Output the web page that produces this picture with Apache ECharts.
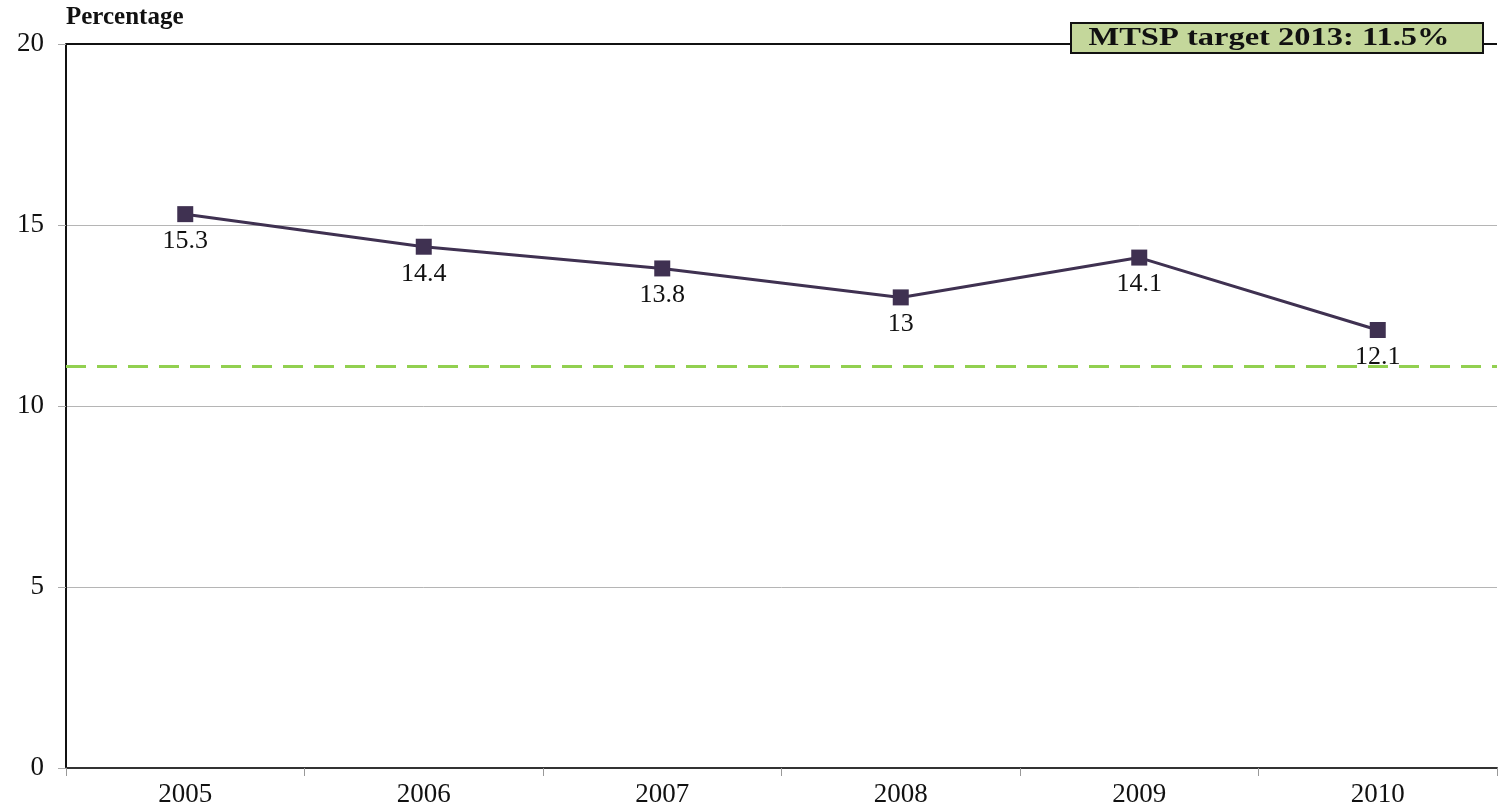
<!DOCTYPE html>
<html>
<head>
<meta charset="utf-8">
<script src="https://cdn.jsdelivr.net/npm/echarts@6/dist/echarts.min.js"></script>
<style>
  html, body { margin: 0; padding: 0; background: #fff; }
  #chart { width: 1499px; height: 808px; }
</style>
</head>
<body>
<div id="chart"></div>
<script>
// data
const years = ['2005', '2006', '2007', '2008', '2009', '2010'];
const shareValues = [15.3, 14.4, 13.8, 13, 14.1, 12.1];
const targetLevel = [11.1];
const yTicks = [0, 5, 10, 15, 20];
const noteText = 'MTSP target 2013: 11.5%';

const serif = '"Liberation Serif", "DejaVu Serif", serif';
const chart = echarts.init(document.getElementById('chart'));

chart.setOption({
  animation: false,
  grid: { left: 66, right: 2, top: 44, bottom: 37 },
  xAxis: {
    type: 'category',
    data: years,
    boundaryGap: true,
    axisLine: { lineStyle: { color: '#333', width: 2 } },
    axisTick: { show: true, length: 8, lineStyle: { color: '#999', width: 1 } },
    axisLabel: { color: '#111', fontFamily: serif, fontSize: 27, margin: 13 }
  },
  yAxis: {
    type: 'value',
    min: yTicks[0],
    max: yTicks[yTicks.length - 1],
    interval: 5,
    name: 'Percentage',
    nameLocation: 'end',
    nameGap: 14,
    nameTextStyle: { color: '#111', fontFamily: serif, fontSize: 25, fontWeight: 'bold', align: 'left' },
    axisLine: { show: true, lineStyle: { color: '#111', width: 2 } },
    axisTick: { show: true, length: 8, lineStyle: { color: '#aaa', width: 1 } },
    axisLabel: { color: '#111', fontFamily: serif, fontSize: 27, margin: 22 },
    splitLine: { show: true, lineStyle: { color: '#b5b5b5', width: 1 } }
  },
  graphic: [{
    type: 'group',
    left: 1070,
    top: 22,
    z: 100,
    children: [{
      type: 'rect',
      z: 100,
      shape: { x: 0, y: 0, width: 412, height: 30 },
      style: { fill: '#c4d79b', stroke: '#111', lineWidth: 2 }
    }, {
      type: 'text',
      z: 101,
      x: 198,
      y: 16,
      scaleX: 1.3,
      style: {
        text: noteText,
        font: 'bold 25px ' + serif,
        fill: '#111',
        align: 'center',
        verticalAlign: 'middle'
      }
    }]
  }],
  series: [{
    type: 'line',
    data: shareValues,
    symbol: 'rect',
    symbolSize: 16,
    itemStyle: { color: '#3f3151' },
    lineStyle: { color: '#3f3151', width: 3 },
    label: {
      show: true,
      position: 'bottom',
      distance: 6,
      color: '#111',
      fontFamily: serif,
      fontSize: 26
    },
    markLine: {
      silent: true,
      symbol: 'none',
      label: { show: false },
      data: [
        { yAxis: targetLevel[0], lineStyle: { color: '#92d050', type: [20, 11], width: 3 } },
        { yAxis: yTicks[yTicks.length - 1], lineStyle: { color: '#111', type: 'solid', width: 2 } }
      ]
    },
    z: 3
  }]
});
</script>
</body>
</html>
